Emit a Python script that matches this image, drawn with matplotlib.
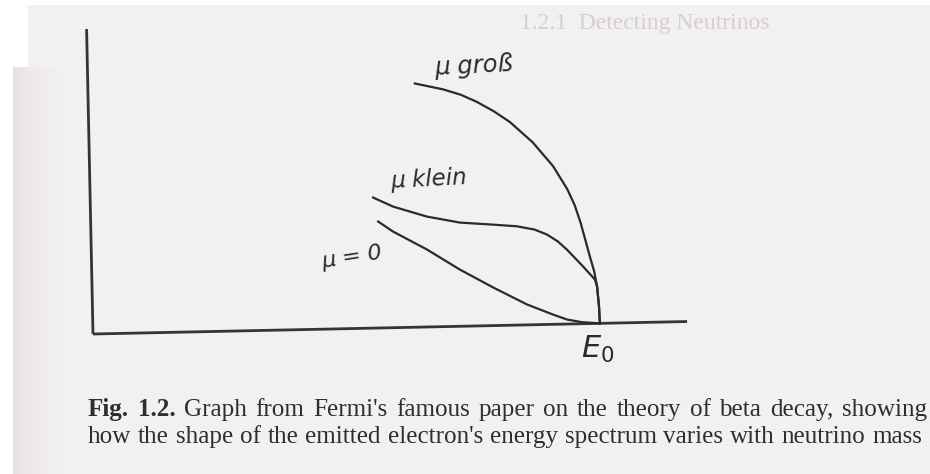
import numpy as np
import matplotlib.pyplot as plt
from matplotlib.transforms import Affine2D
from matplotlib.patches import Rectangle

# Fermi's sketch of the beta spectrum near the endpoint E0.
# Energy in units of E0, intensity in units of the ordinate height.
E_gross = [0.645, 0.700, 0.735, 0.766, 0.800, 0.831, 0.875, 0.914, 0.941, 0.955, 0.966, 0.983, 0.991, 0.996, 0.999, 1.0]
I_gross = [0.799, 0.778, 0.759, 0.735, 0.702, 0.666, 0.598, 0.519, 0.443, 0.390, 0.332, 0.220, 0.170, 0.121, 0.055, 0.0]

E_klein = [0.558, 0.597, 0.663, 0.728, 0.793, 0.840, 0.875, 0.899, 0.920, 0.938, 0.969, 0.992, 0.996, 0.999, 1.0]
I_klein = [0.428, 0.397, 0.362, 0.340, 0.331, 0.324, 0.312, 0.295, 0.272, 0.244, 0.188, 0.144, 0.121, 0.055, 0.0]

E_null = [0.567, 0.596, 0.662, 0.726, 0.791, 0.857, 0.908, 0.935, 0.965, 1.0]
I_null = [0.349, 0.315, 0.254, 0.186, 0.125, 0.067, 0.032, 0.015, 0.005, 0.0]

E_axis_end = 1.172
I_axis_end = 1.0

labels = ["\u03bc gro\u00df", "\u03bc klein", "\u03bc = 0"]
caption_1 = "Fig. 1.2. Graph from Fermi's famous paper on the theory of beta decay, showing"
caption_2 = "how the shape of the emitted electron's energy spectrum varies with neutrino mass"

page = (0.951, 0.942, 0.944)
ink = "#2b2929"

fig = plt.figure(figsize=(9.3, 4.74), dpi=100)
fig.patch.set_facecolor("white")
ax = fig.add_axes([0, 0, 1, 1])
ax.set_xlim(0, 930)
ax.set_ylim(474, 0)
ax.axis("off")

# paper, with a little shadow at the binding
ax.add_patch(Rectangle((13, 67), 917, 407, color=page, lw=0, zorder=0))
ax.add_patch(Rectangle((28, 5), 902, 62, color=page, lw=0, zorder=0))
shade = np.linspace(0, 1, 60)
grad = np.empty((1, 60, 3))
for i, c0 in enumerate((0.90, 0.875, 0.885)):
    grad[0, :, i] = c0 + (page[i] - c0) * shade ** 0.6
ax.imshow(grad, extent=(13, 60, 474, 67), aspect="auto", zorder=0.5, interpolation="bilinear")

# faint heading from the page showing through
ax.text(520, 29, "1.2.1  Detecting Neutrinos", family="Liberation Serif", fontsize=17,
        color=(0.83, 0.815, 0.82), va="baseline", zorder=1)

# sketch frame: slightly rotated like the hand-drawn original
sketch = Affine2D().scale(507, -305).rotate(-0.021).translate(93, 334) + ax.transData

ax.plot([0, E_axis_end], [0, 0], color="#353333", lw=2.0, transform=sketch, solid_capstyle="butt", zorder=3)
ax.plot([0, 0], [0, I_axis_end], color="#353333", lw=2.0, transform=sketch, solid_capstyle="butt", zorder=3)

for E, I in ((E_gross, I_gross), (E_klein, I_klein), (E_null, I_null)):
    ax.plot(E, I, color=ink, lw=1.6, transform=sketch, solid_joinstyle="round", zorder=3)

hand = dict(family="DejaVu Sans", style="italic", color=ink, zorder=4)
ax.text(0.684, 0.825, labels[0], fontsize=17.5, rotation=3, ha="left", va="baseline", transform=sketch, **hand)
ax.text(0.592, 0.458, labels[1], fontsize=16.5, rotation=3, ha="left", va="baseline", transform=sketch, **hand)
ax.text(0.514, 0.232, labels[2], fontsize=16, rotation=9, ha="center", va="center", transform=sketch, **hand)
ax.text(0.995, -0.085, r"$E_0$", fontsize=22, ha="center", va="center", color=ink,
        transform=sketch, zorder=4)

# caption, set justified between the page margins
cap = dict(family="Liberation Serif", color="#2f2d2d", va="baseline", zorder=4)
r = fig.canvas.get_renderer()
probe = ax.text(0, 0, caption_2, fontsize=10, **cap)
fs = 10 * 826 / probe.get_window_extent(r).width
probe.remove()


def justify(line, x0, x1, y, n_bold=0):
    words = line.split()
    texts, widths = [], []
    for k, w in enumerate(words):
        t = ax.text(0, y, w, fontsize=fs, fontweight="bold" if k < n_bold else "normal", **cap)
        texts.append(t)
        widths.append(t.get_window_extent(r).width)
    gap = (x1 - x0 - sum(widths)) / (len(words) - 1)
    x = x0
    for t, w in zip(texts, widths):
        t.set_x(x)
        x += w + gap


justify(caption_1, 88, 927, 416, n_bold=2)
justify(caption_2, 88, 922, 443)

fig.savefig("out.png", dpi=100)
